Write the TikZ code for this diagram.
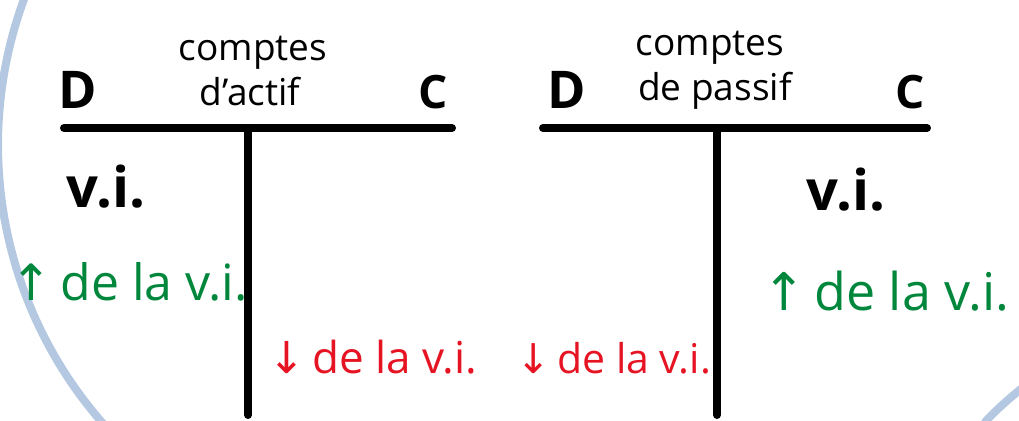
\documentclass[tikz,border=0pt]{standalone}
\usepackage{fontspec}
\setmainfont{Open Sans}
\newfontfamily\symfont{DejaVu Sans}
\definecolor{tgreen}{RGB}{0,135,60}
\definecolor{tred}{RGB}{230,20,35}
\definecolor{circblue}{RGB}{105,145,195}
\begin{document}
\begin{tikzpicture}[x=1pt,y=-1pt,
  tline/.style={line width=8pt,line cap=round},
  ring/.style={line width=8pt,draw=circblue,opacity=0.5,line cap=round},
  lbl/.style={inner sep=0pt,anchor=base},
  dc/.style={lbl,font=\fontsize{52}{52}\selectfont\bfseries},
  cc/.style={lbl,font=\fontsize{46}{46}\selectfont\bfseries},
  title/.style={lbl,font=\fontsize{37}{37}\selectfont},
  vi/.style={lbl,font=\fontsize{56}{56}\selectfont\bfseries},
  up/.style={inner sep=0pt,anchor=base west,text=tgreen},
  down/.style={inner sep=0pt,anchor=base west,text=tred}]
\useasboundingbox (0,0) rectangle (1019,420);
% background circles
\draw[ring] plot[domain=138:203,samples=60] ({420+422*cos(\x)},{145+422*sin(\x)});
\draw[ring] (985,422) .. controls (998,408) and (1010,398) .. (1022,388);
% left T account
\coordinate (l1) at (64,128);
\coordinate (l2) at (452,128);
\coordinate (lt) at (248,128);
\coordinate (lb) at (248,415);
\draw[tline] (l1) -- (l2);
\draw[tline] (lt) -- (lb);
% right T account
\coordinate (r1) at (543,128);
\coordinate (r2) at (927,128);
\coordinate (rt) at (717,128);
\coordinate (rb) at (717,415);
\draw[tline] (r1) -- (r2);
\draw[tline] (rt) -- (rb);
% headers
\node[dc] (dl) at (78,108) {D};
\node[cc] (cl) at (433,108) {C};
\node[dc] (dr) at (567,108) {D};
\node[cc] (cr) at (910,108) {C};
\node[title] (t1) at (253,60) {comptes};
\node[title] (t2) at (250,105) {d'actif};
\node[title] (t3) at (710,56) {comptes};
\node[title] (t4) at (715,100) {de passif};
% initial values
\node[vi] (vl) at (106,207) {v.i.};
\node[vi] (vr) at (846,210) {v.i.};
% increases
\node[up,font=\fontsize{50}{50}\selectfont] (gl) at (10,300) {{\symfont\char"2191}\,de la v.i.};
\node[up,font=\fontsize{52}{52}\selectfont] (gr) at (762,310) {{\symfont\char"2191}\,de la v.i.};
% decreases
\node[down,font=\fontsize{44}{44}\selectfont] (rl) at (268,373) {{\symfont\char"2193}\,de la v.i.};
\node[down,font=\fontsize{41}{41}\selectfont] (rr) at (516,373) {{\symfont\char"2193}\,de la v.i.};
\end{tikzpicture}
\end{document}
